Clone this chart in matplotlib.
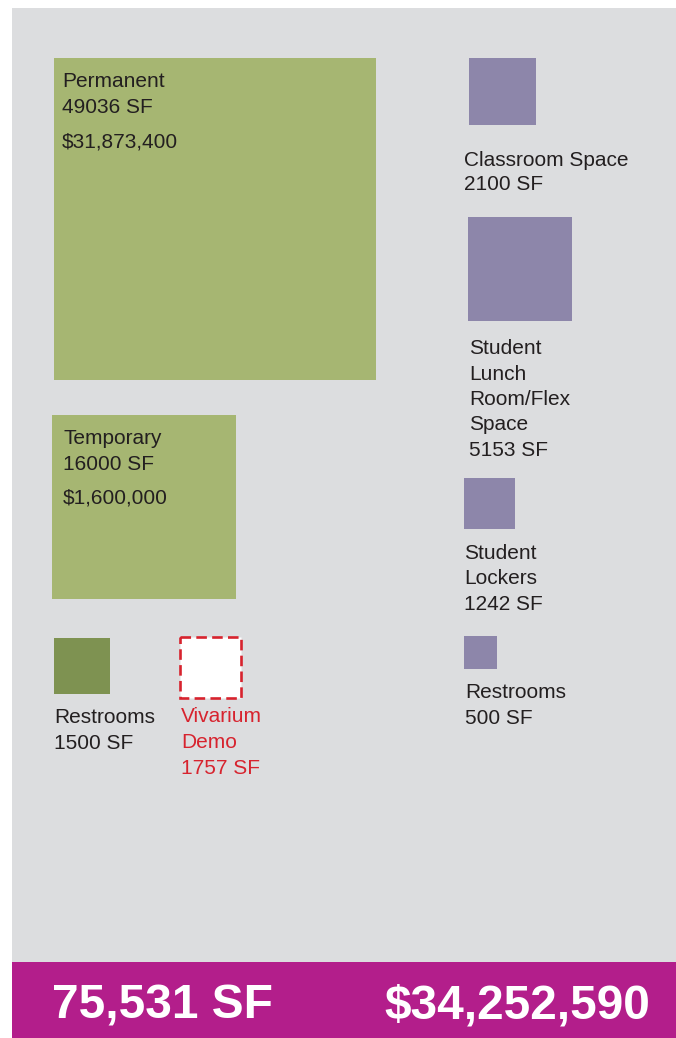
import numpy as np
import matplotlib
matplotlib.use("Agg")
import matplotlib.pyplot as plt
from matplotlib.patches import Rectangle

# ---------------- data ----------------
names = ["Permanent", "Temporary", "Restrooms", "Vivarium\nDemo",
         "Classroom Space", "Student\nLunch\nRoom/Flex\nSpace",
         "Student\nLockers", "Restrooms"]
sqft = [49036, 16000, 1500, 1757, 2100, 5153, 1242, 500]
costs = ["$31,873,400", "$1,600,000", None, None, None, None, None, None]
groups = ["perm", "perm", "perm_small", "demo", "new", "new", "new", "new"]
total_cost_label = "$34,252,590"

# ---------------- layout / style ----------------
W, H = 676, 1038
k = 1.455  # pixels per sqrt(SF)
# top-left corner of each square (pixels)
anchors = [(54, 58), (52, 415), (54, 638), (180, 637),
           (469, 58), (468, 217), (464, 478), (464, 636)]
# text left x and first baseline y
label_pos = [(62, 87), (63, 444), (54, 723), (181, 722),
             (464, 166), (469, 354), (464, 559), (465, 698)]
line_step = [26, 26, 26, 26, 24, 25.5, 25.5, 25.5]
fill = {"perm": "#A6B672", "perm_small": "#7E9251", "demo": "#FFFFFF", "new": "#8D86AA"}
txt_col = "#231F20"
red = "#D7232E"
bg = "#DCDDDF"
band = "#B31E8B"

plt.rcParams['font.family'] = ['Liberation Sans', 'DejaVu Sans']

fig = plt.figure(figsize=(W / 100, H / 100), dpi=100)
ax = fig.add_axes([0, 0, 1, 1])
ax.set_xlim(0, W)
ax.set_ylim(H, 0)
ax.axis("off")

ax.add_patch(Rectangle((12, 8), W - 12, 962 - 8, facecolor=bg, edgecolor="none"))
ax.add_patch(Rectangle((12, 962), W - 12, H - 962, facecolor=band, edgecolor="none"))

fs = 15
for i, (nm, sf, cost, g) in enumerate(zip(names, sqft, costs, groups)):
    side = k * np.sqrt(sf)
    x0, y0 = anchors[i]
    if g == "demo":
        ax.add_patch(Rectangle((x0, y0), side, side, facecolor="white",
                               edgecolor=red, linewidth=1.9, linestyle=(0, (4, 2))))
        col = red
    else:
        ax.add_patch(Rectangle((x0, y0), side, side, facecolor=fill[g], edgecolor="none"))
        col = txt_col
    lines = nm.split("\n") + [f"{sf} SF"]
    tx, ty = label_pos[i]
    for j, ln in enumerate(lines):
        ax.text(tx, ty + j * line_step[i], ln, fontsize=fs, color=col,
                ha="left", va="baseline")
    if cost:
        ax.text(tx, ty + len(lines) * line_step[i] + 8, cost, fontsize=fs,
                color=col, ha="left", va="baseline")

total_sf = sum(s for s, g in zip(sqft, groups) if g != "demo")
ax.text(52, 1019, f"{total_sf:,} SF", fontsize=34.5, fontweight="bold",
        color="white", ha="left", va="baseline")
ax.text(650, 1019, total_cost_label, fontsize=34.5, fontweight="bold",
        color="white", ha="right", va="baseline")

fig.savefig("out.png", dpi=100, facecolor="white")
